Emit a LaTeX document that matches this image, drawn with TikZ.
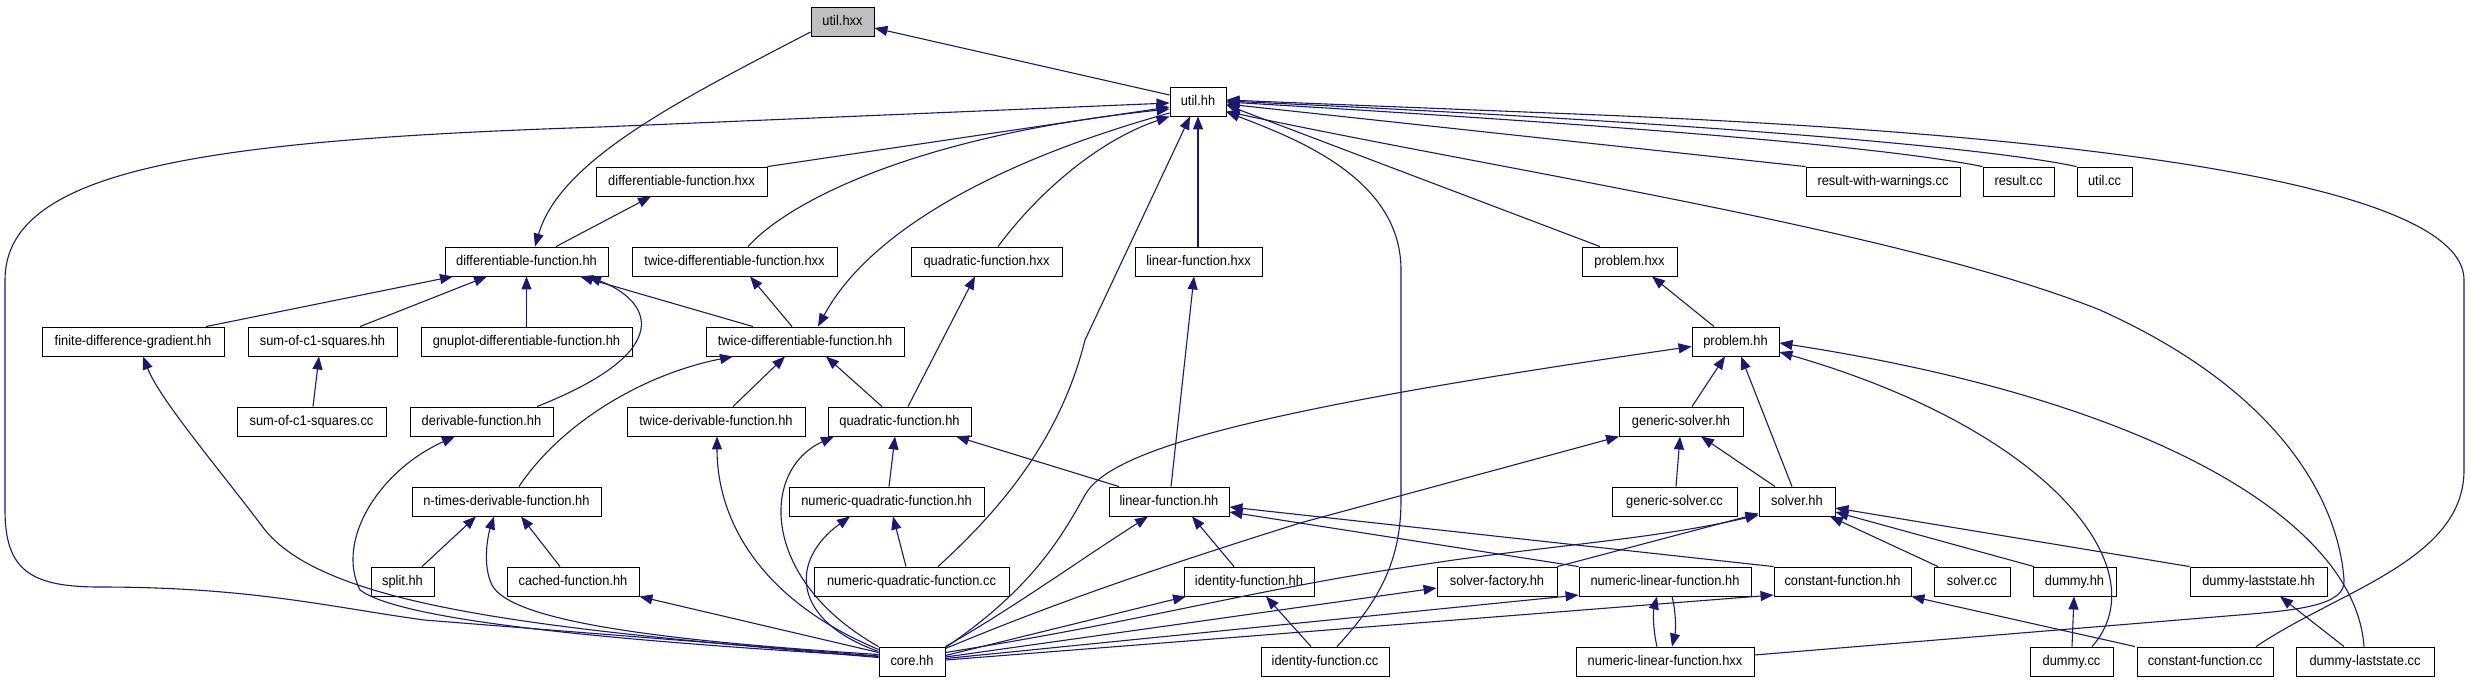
\documentclass[tikz,border=0pt]{standalone}
\usepackage{fontspec}
\setmainfont{Liberation Sans}
\newfontfamily\boxfont[FakeStretch=0.92]{Liberation Sans}
\usetikzlibrary{arrows.meta,shadows}
\definecolor{edgec}{HTML}{191970}
\definecolor{hdr}{HTML}{BFBFBF}
\tikzset{
  nd/.style={draw=black, line width=0.9pt, fill=white, minimum height=29pt, inner sep=0pt,
    text height=10pt, text depth=3pt, font=\boxfont\fontsize{14}{16}\selectfont,
    general shadow={shadow xshift=0.9pt, shadow yshift=-0.9pt, fill=black!45}},
  e/.style={draw=edgec, line width=1.1pt, -{Triangle[length=13pt,width=10pt]}},
}
\begin{document}
\begin{tikzpicture}[x=1pt,y=-1pt]
\useasboundingbox (0,0) rectangle (2471,683);
% nodes
\node[nd, minimum width=63pt, fill=hdr] (utilhxx) at (842.5,21.5) {util.hxx};
\node[nd, minimum width=56pt] (utilhh) at (1198,101.5) {util.hh};
\node[nd, minimum width=171pt] (dfhxx) at (681.5,181.5) {differentiable-function.hxx};
\node[nd, minimum width=154pt] (rww) at (1883,181.5) {result-with-warnings.cc};
\node[nd, minimum width=71pt] (resultcc) at (2018.5,181.5) {result.cc};
\node[nd, minimum width=55pt] (utilcc) at (2104.5,181.5) {util.cc};
\node[nd, minimum width=163pt] (dfhh) at (526.5,261.5) {differentiable-function.hh};
\node[nd, minimum width=205pt] (tdfhxx) at (734.5,261.5) {twice-differentiable-function.hxx};
\node[nd, minimum width=151pt] (qfhxx) at (986.5,261.5) {quadratic-function.hxx};
\node[nd, minimum width=127pt] (lfhxx) at (1198.5,261.5) {linear-function.hxx};
\node[nd, minimum width=95pt] (problemhxx) at (1629.5,261.5) {problem.hxx};
\node[nd, minimum width=182pt] (fdg) at (133,341.5) {finite-difference-gradient.hh};
\node[nd, minimum width=149pt] (sc1hh) at (322.5,341.5) {sum-of-c1-squares.hh};
\node[nd, minimum width=211pt] (gnuplot) at (526.5,341.5) {gnuplot-differentiable-function.hh};
\node[nd, minimum width=198pt] (tdfhh) at (805,341.5) {twice-differentiable-function.hh};
\node[nd, minimum width=87pt] (problemhh) at (1735.5,341.5) {problem.hh};
\node[nd, minimum width=149pt] (sc1cc) at (311.5,421.5) {sum-of-c1-squares.cc};
\node[nd, minimum width=143pt] (derivhh) at (481.5,421.5) {derivable-function.hh};
\node[nd, minimum width=178pt] (tderivhh) at (716,421.5) {twice-derivable-function.hh};
\node[nd, minimum width=143pt] (qfhh) at (899.5,421.5) {quadratic-function.hh};
\node[nd, minimum width=124pt] (gshh) at (1681,421.5) {generic-solver.hh};
\node[nd, minimum width=189pt] (ntimes) at (506.5,501.5) {n-times-derivable-function.hh};
\node[nd, minimum width=195pt] (nqfhh) at (886.5,501.5) {numeric-quadratic-function.hh};
\node[nd, minimum width=120pt] (lfhh) at (1169,501.5) {linear-function.hh};
\node[nd, minimum width=125pt] (gscc) at (1674.5,501.5) {generic-solver.cc};
\node[nd, minimum width=76pt] (solverhh) at (1797,501.5) {solver.hh};
\node[nd, minimum width=63pt] (splithh) at (402.5,581.5) {split.hh};
\node[nd, minimum width=132pt] (cachedhh) at (573,581.5) {cached-function.hh};
\node[nd, minimum width=195pt] (nqfcc) at (911.5,581.5) {numeric-quadratic-function.cc};
\node[nd, minimum width=130pt] (idfhh) at (1249,581.5) {identity-function.hh};
\node[nd, minimum width=120pt] (sfhh) at (1497,581.5) {solver-factory.hh};
\node[nd, minimum width=172pt] (nlfhh) at (1665,581.5) {numeric-linear-function.hh};
\node[nd, minimum width=137pt] (cfhh) at (1842.5,581.5) {constant-function.hh};
\node[nd, minimum width=76pt] (solvercc) at (1972,581.5) {solver.cc};
\node[nd, minimum width=83pt] (dummyhh) at (2074.5,581.5) {dummy.hh};
\node[nd, minimum width=137pt] (dlshh) at (2258.5,581.5) {dummy-laststate.hh};
\node[nd, minimum width=66pt] (corehh) at (912,661.5) {core.hh};
\node[nd, minimum width=128pt] (idfcc) at (1325,661.5) {identity-function.cc};
\node[nd, minimum width=178pt] (nlfhxx) at (1665,661.5) {numeric-linear-function.hxx};
\node[nd, minimum width=83pt] (dummycc) at (2071.5,661.5) {dummy.cc};
\node[nd, minimum width=136pt] (cfcc) at (2205,661.5) {constant-function.cc};
\node[nd, minimum width=138pt] (dlscc) at (2365,661.5) {dummy-laststate.cc};

% edges into util.hxx / util.hh
\draw[e] ([yshift=6.5pt]utilhh.west) -- ([yshift=-6.5pt]utilhxx.east);
\draw[e] ([yshift=-10.5pt]utilhxx.west) .. controls (680,100) and (560,160) .. ([xshift=8.5pt]dfhh.north);
\draw[e] ([yshift=5.5pt]corehh.west) -- (424,620) .. controls (330,607) and (250,587) .. (100,587)
  .. controls (30,587) and (5,570) .. (5,510) -- (5,280) .. controls (5,170) and (200,140) .. (600,127)
  -- ([yshift=-1.5pt]utilhh.west);
\draw[e] (dfhxx.north east) -- ([yshift=-5.5pt]utilhh.west);
\draw[e] ([xshift=13.5pt]tdfhxx.north) .. controls (790,200) and (920,135) .. ([yshift=-7.5pt]utilhh.west);
\draw[e] ([yshift=-11.5pt]utilhh.west) .. controls (1000,160) and (870,230) .. ([xshift=13pt]tdfhh.north);
\draw[e] ([xshift=11.5pt]qfhxx.north) .. controls (1040,190) and (1100,140) .. (utilhh.south west);
\draw[e] ([xshift=26.5pt]nqfcc.north) .. controls (1000,510) and (1060,440) .. (1085,340) -- ([xshift=-8pt]utilhh.south);
\draw[e] ([xshift=-0.5pt]lfhxx.north) -- (utilhh.south);
\draw[e] ([xshift=12pt]idfcc.north) .. controls (1380,600) and (1401,560) .. (1401,500) -- (1401,270)
  .. controls (1401,180) and (1300,140) .. ([yshift=-10.5pt]utilhh.east);
\draw[e] ([xshift=-29.5pt]problemhxx.north) -- ([yshift=-3.5pt]utilhh.east);
\draw[e] (rww.north west) -- ([yshift=-2.5pt]utilhh.east);
\draw[e] (resultcc.north west) .. controls (1900,150) and (1700,130) .. ([yshift=-0.5pt]utilhh.east);
\draw[e] (utilcc.north west) .. controls (2000,150) and (1750,125) .. ([yshift=0.5pt]utilhh.east);
\draw[e] ([xshift=51pt]cfcc.north) .. controls (2340,590) and (2464,560) .. (2464,470) -- (2464,280)
  .. controls (2464,200) and (2200,140) .. (1600,115) -- ([yshift=1.5pt]utilhh.east);
\draw[e] ([yshift=6.5pt]nlfhxx.east) -- (2239,615) .. controls (2300,610) and (2346,605) .. (2344,580)
  .. controls (2340,520) and (2300,400) .. (2100,310) .. controls (1900,230) and (1500,170) .. ([yshift=-10pt]utilhh.east);

% differentiable / twice-differentiable
\draw[e] ([xshift=29.5pt]dfhh.north) -- ([xshift=-30.5pt]dfhxx.south);
\draw[e] ([xshift=73pt]fdg.north) -- ([xshift=-73.5pt]dfhh.south);
\draw[e] ([xshift=37.5pt]sc1hh.north) -- ([xshift=-39.5pt]dfhh.south);
\draw[e] (gnuplot.north) -- (dfhh.south);
\draw[e] ([xshift=-52pt]tdfhh.north) -- ([xshift=53.5pt]dfhh.south);
\draw[e] ([xshift=55.5pt]derivhh.north) .. controls (680,350) and (650,300) .. ([xshift=61.5pt]dfhh.south);
\draw[e] ([xshift=-13pt]tdfhh.north) -- ([xshift=15.5pt]tdfhxx.south);
\draw[e] ([xshift=12.5pt]ntimes.north) .. controls (560,425) and (640,375) .. ([xshift=-72pt]tdfhh.south);
\draw[e] ([xshift=17pt]tderivhh.north) -- ([xshift=-20pt]tdfhh.south);
\draw[e] ([xshift=-17.5pt]qfhh.north) -- ([xshift=21pt]tdfhh.south);
\draw[e] ([xshift=8.5pt]qfhh.north) -- ([xshift=-11.5pt]qfhxx.south);
\draw[e] ([xshift=1.5pt]sc1cc.north) -- ([xshift=-3.5pt]sc1hh.south);
\draw[e] ([xshift=2.5pt]nqfhh.north) -- ([xshift=-4.5pt]qfhh.south);
\draw[e] ([xshift=-50pt]lfhh.north) -- ([xshift=56.5pt]qfhh.south);
\draw[e] (corehh.north west) .. controls (760,580) and (760,470) .. ([xshift=-65.5pt]qfhh.south);
\draw[e] ([xshift=2pt]lfhh.north) -- ([xshift=-4.5pt]lfhxx.south);
\draw[e] (corehh.north east) .. controls (1010,610) and (1080,560) .. ([xshift=-21pt]lfhh.south);
\draw[e] ([xshift=-15pt]idfhh.north) -- ([xshift=23pt]lfhh.south);
\draw[e] (nlfhh.north west) -- ([yshift=-10.5pt]lfhh.east);
\draw[e] (cfhh.north west) -- ([yshift=-5.5pt]lfhh.east);
\draw[e] ([xshift=-5.5pt]nqfcc.north) -- ([xshift=6.5pt]nqfhh.south);
\draw[e] ([yshift=10pt]corehh.west) .. controls (790,620) and (790,560) .. ([xshift=-36.5pt]nqfhh.south);
\draw[e] ([xshift=19.5pt]splithh.north) -- ([xshift=-30.5pt]ntimes.south);
\draw[e] ([xshift=-13pt]cachedhh.north) -- ([xshift=14.5pt]ntimes.south);
\draw[e] ([yshift=7pt]corehh.west) .. controls (650,640) and (510,620) .. (492,585)
  .. controls (482,565) and (488,535) .. ([xshift=-12.5pt]ntimes.south);
\draw[e] ([yshift=9pt]corehh.west) -- (cachedhh.south east);
\draw[e] ([yshift=5pt]corehh.west) .. controls (600,640) and (400,620) .. (360,590)
  .. controls (335,540) and (380,470) .. ([xshift=-26.5pt]derivhh.south);
\draw[e] ([yshift=4pt]corehh.west) .. controls (560,630) and (330,610) .. (265,530)
  .. controls (220,470) and (160,400) .. ([xshift=10pt]fdg.south);
\draw[e] ([yshift=12pt]corehh.west) .. controls (760,600) and (717,520) .. ([xshift=1pt]tderivhh.south);

% core to the right
\draw[e] ([yshift=6pt]corehh.east) -- ([xshift=-63pt]idfhh.south);
\draw[e] ([xshift=-14pt]idfcc.north) -- ([xshift=17pt]idfhh.south);
\draw[e] ([yshift=4.5pt]corehh.east) -- ([yshift=-6.5pt]sfhh.west);
\draw[e] ([yshift=3pt]corehh.east) -- ([yshift=-13.5pt]nlfhh.west);
\draw[e] ([yshift=1.5pt]corehh.east) -- ([yshift=-13.5pt]cfhh.west);
\draw[e] ([yshift=9pt]corehh.east) .. controls (1150,620) and (1250,590) .. (1420,565)
  .. controls (1550,545) and (1650,540) .. ([yshift=-13.5pt]solverhh.west);
\draw[e] (sfhh.north east) -- ([yshift=-12pt]solverhh.west);
\draw[e] ([xshift=-34pt]solvercc.north) -- ([xshift=33pt]solverhh.south);
\draw[e] ([xshift=-40.5pt]dummyhh.north) -- ([yshift=-10.5pt]solverhh.east);
\draw[e] (dlshh.north west) -- ([yshift=-6.5pt]solverhh.east);
\draw[e] ([xshift=1.5pt]gscc.north) -- ([xshift=-1pt]gshh.south);
\draw[e] ([xshift=-22pt]solverhh.north) -- ([xshift=20pt]gshh.south);
\draw[e] ([yshift=13pt]corehh.east) .. controls (1050,605) and (1150,570) .. (1300,523) -- ([xshift=-62pt]gshh.south);
\draw[e] ([xshift=11pt]gshh.north) -- ([xshift=-10.5pt]problemhh.south);
\draw[e] ([xshift=-5pt]solverhh.north) -- ([xshift=5.5pt]problemhh.south);
\draw[e] ([yshift=14pt]corehh.east) .. controls (1030,590) and (1060,540) .. (1085,495)
  .. controls (1110,450) and (1250,410) .. ([yshift=-5pt]problemhh.west);
\draw[e] ([xshift=20.5pt]dummycc.north) .. controls (2160,570) and (2050,430) .. ([yshift=-10.5pt]problemhh.east);
\draw[e] ([xshift=-1pt]dlscc.north) .. controls (2355,520) and (2150,400) .. ([yshift=-1.5pt]problemhh.east);
\draw[e] ([xshift=-21.5pt]problemhh.north) -- ([xshift=22.5pt]problemhxx.south);
\draw[e] ([xshift=0.5pt]dummycc.north) -- ([xshift=-0.5pt]dummyhh.south);
\draw[e] ([xshift=-70pt]cfcc.north) -- (cfhh.south east);
\draw[e] ([xshift=-21pt]dlscc.north) -- ([xshift=21.5pt]dlshh.south);
\draw[e] ([xshift=-8pt]nlfhxx.north) .. controls (1653,630) and (1653,612) .. ([xshift=-8pt]nlfhh.south);
\draw[e] ([xshift=7pt]nlfhh.south) .. controls (1676,612) and (1676,630) .. ([xshift=7pt]nlfhxx.north);
\end{tikzpicture}
\end{document}
